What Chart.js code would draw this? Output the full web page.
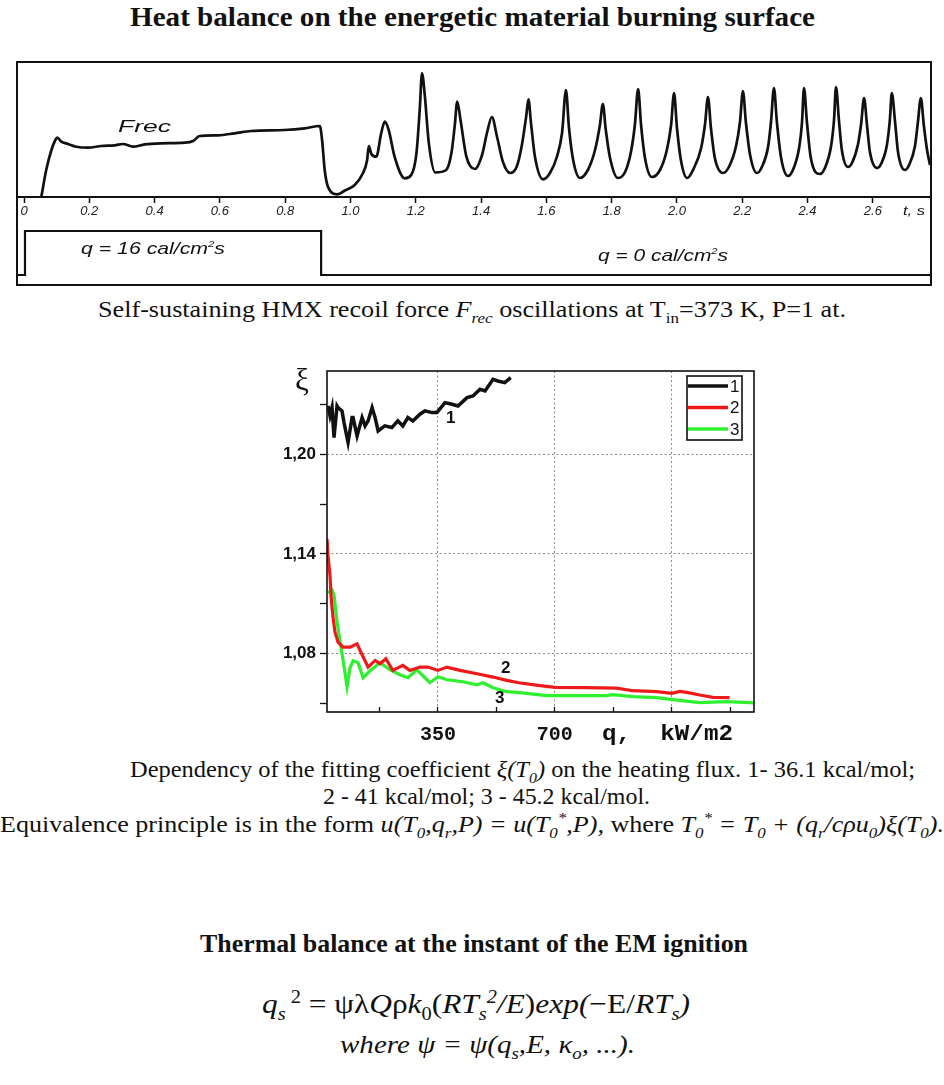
<!DOCTYPE html>
<html>
<head>
<meta charset="utf-8">
<script src="https://cdn.jsdelivr.net/npm/chart.js@4.4.1/dist/chart.umd.min.js"></script>
<style>
body{margin:0;width:944px;height:1085px;position:relative;background:#fff;overflow:hidden;
  font-family:"Liberation Serif","Times New Roman",serif;color:#111}
.t{position:absolute;white-space:nowrap;line-height:1;transform-origin:left top}
.s{font-family:"Liberation Sans",Arial,sans-serif;font-style:italic}
sub,sup{font-size:65%;line-height:0}
#box{position:absolute;left:16px;top:61px;width:916px;height:225px;border:2px solid #111;box-sizing:border-box}
#c1{position:absolute;left:0;top:0}
#c2{position:absolute;left:280px;top:350px}
.num{font-family:"Liberation Sans",Arial,sans-serif;font-weight:bold;font-size:17px}
</style>
</head>
<body>

<div class="t" data-w="685" style="left:130px;top:4px;font-size:27px;font-weight:bold">Heat balance on the energetic material burning surface</div>

<div id="box"><canvas id="c1" width="912" height="221"></canvas></div>
<div class="t s" data-w="53" style="left:118px;top:118px;font-size:17px">Frec</div>
<div class="t s" data-w="144" style="left:81px;top:240px;font-size:17px">q = 16 cal/cm<sup style="font-size:9px">2</sup>s</div>
<div class="t s" data-w="130" style="left:598px;top:247px;font-size:17px">q = 0 cal/cm<sup style="font-size:9px">2</sup>s</div>
<div class="t s" data-w="22" style="left:903px;top:204px;font-size:13px">t, s</div>

<div class="t" data-w="748" style="left:98px;top:297px;font-size:24px">Self-sustaining HMX recoil force <i>F<sub>rec</sub></i> oscillations at T<sub>in</sub>=373 K, P=1 at.</div>

<canvas id="c2" width="490" height="400"></canvas>
<div class="t" style="left:295px;top:364px;font-size:31px">ξ</div>
<div class="t num" style="left:446px;top:409px">1</div>
<div class="t num" style="left:501px;top:659px">2</div>
<div class="t num" style="left:495px;top:689px">3</div>
<div class="t" data-w="131" style="left:602px;top:724px;font-size:22px;font-weight:bold;font-family:'Liberation Mono',monospace;white-space:pre">q,  kW/m2</div>

<div class="t" data-w="785" style="left:130px;top:757px;font-size:24px">Dependency of the fitting coefficient <i>ξ(T<sub>0</sub>)</i> on the heating flux. 1- 36.1 kcal/mol;</div>
<div class="t" data-w="327" style="left:323px;top:784px;font-size:24px">2 - 41 kcal/mol; 3 - 45.2 kcal/mol.</div>
<div class="t" data-w="944" style="left:0px;top:812px;font-size:24px">Equivalence principle is in the form <i>u(T<sub>0</sub>,q<sub>r</sub>,P) = u(T<sub>0</sub><sup>*</sup>,P),</i> where <i>T<sub>0</sub><sup>*</sup> = T<sub>0</sub> + (q<sub>r</sub>/cρu<sub>0</sub>)ξ(T<sub>0</sub>).</i></div>

<div class="t" data-w="548" style="left:200px;top:931px;font-size:26px;font-weight:bold">Thermal balance at the instant of the EM ignition</div>
<div class="t" data-w="428" style="left:262px;top:990px;font-size:28px"><i>q<sub>s</sub></i><sup> 2</sup> = ψλ<i>Q</i>ρ<i>k</i><sub>0</sub>(<i>RT<sub>s</sub><sup>2</sup>/E</i>)<i>exp(</i>−E/<i>RT<sub>s</sub>)</i></div>
<div class="t" data-w="295" style="left:340px;top:1032px;font-size:25px"><i>where ψ = ψ(q<sub>s</sub>,E, κ<sub>o</sub>, ...).</i></div>

<script>
// top chart: recoil force (relative units) vs time, s
const frecTime = [
  0.053, 0.068, 0.084, 0.096, 0.102, 0.114, 0.135, 0.160, 0.196, 0.237,
  0.278, 0.303, 0.334, 0.370, 0.420, 0.492, 0.518, 0.538, 0.594, 0.645,
  0.696, 0.798, 0.860, 0.906, 0.913, 0.921, 0.931, 0.960, 0.982, 1.013,
  1.038, 1.051, 1.056, 1.064, 1.079, 1.094, 1.105, 1.117, 1.135, 1.166,
  1.186, 1.202, 1.212, 1.219, 1.227, 1.240, 1.260, 1.293,
  1.309, 1.319, 1.327, 1.337, 1.355,
  1.381, 1.403, 1.418, 1.433, 1.449, 1.467, 1.489,
  1.509, 1.524, 1.538, 1.545, 1.553, 1.565, 1.590,
  1.611, 1.632, 1.648, 1.660, 1.669, 1.682, 1.703,
  1.727, 1.749, 1.764, 1.773, 1.782, 1.795, 1.819,
  1.841, 1.859, 1.871, 1.881, 1.890, 1.902, 1.923,
  1.948, 1.969, 1.982, 1.991, 2.000, 2.012, 2.031,
  2.052, 2.074, 2.086, 2.095, 2.104, 2.116, 2.141,
  2.159, 2.181, 2.193, 2.202, 2.211, 2.224, 2.245,
  2.260, 2.279, 2.288, 2.297, 2.306, 2.319, 2.340,
  2.355, 2.374, 2.383, 2.389, 2.398, 2.410, 2.438,
  2.453, 2.472, 2.481, 2.487, 2.496, 2.505, 2.524,
  2.536, 2.554, 2.564, 2.573, 2.582, 2.591, 2.613,
  2.625, 2.643, 2.652, 2.658, 2.668, 2.677, 2.698,
  2.711, 2.729, 2.738, 2.747, 2.756, 2.766, 2.775
];
const frecForce = [
  0.0, 2.7, 4.7, 5.7, 5.93, 5.53, 5.3, 5.03, 4.93, 5.1,
  5.17, 5.3, 5.03, 5.27, 5.37, 5.43, 5.6, 6.1, 6.17, 6.37,
  6.6, 6.7, 6.87, 7.1, 5.7, 2.7, 1.03, 0.27, 0.63, 1.2,
  2.37, 3.7, 5.1, 4.3, 4.03, 6.37, 7.53, 6.7, 4.03, 1.87,
  2.2, 4.37, 8.7, 12.37, 10.37, 5.37, 2.45, 2.7,
  4.37, 7.03, 9.53, 7.7, 4.03,
  2.8, 4.2, 6.4, 8.0, 6.0, 3.5, 2.4,
  3.03, 5.03, 8.03, 9.77, 7.37, 4.03, 1.77,
  2.4, 4.0, 6.4, 10.7, 7.0, 3.7, 1.9,
  2.7, 4.7, 7.2, 9.3, 6.7, 3.9, 1.9,
  2.5, 4.5, 7.2, 10.8, 7.2, 3.9, 2.0,
  2.7, 4.7, 7.2, 10.4, 6.9, 3.7, 1.9,
  2.9, 4.9, 7.3, 10.0, 6.9, 3.9, 2.4,
  3.0, 5.1, 7.5, 10.6, 7.5, 4.2, 2.4,
  3.0, 5.0, 7.5, 10.9, 7.5, 3.9, 2.1,
  2.7, 4.9, 7.5, 10.9, 7.5, 3.9, 2.3,
  2.9, 5.1, 7.7, 11.0, 7.7, 4.7, 3.0,
  3.4, 5.2, 7.3, 9.9, 7.2, 4.5, 2.9,
  3.3, 5.2, 7.7, 10.4, 7.5, 4.5, 2.7,
  3.2, 5.1, 7.5, 9.9, 7.2, 4.7, 3.2
];
// heat flux q, cal/cm2 s
const qTime = [-0.02, 0.003, 0.91, 2.78];
const qFlux = [0, 16, 0, 0];
const tTicks = [0, 0.2, 0.4, 0.6, 0.8, 1.0, 1.2, 1.4, 1.6, 1.8, 2.0, 2.2, 2.4, 2.6];

// bottom chart: xi vs q, kW/m2
const q1 = [21,27,33,39,48,51,63,69,81,93,96,108,123,132,141,153,162,171,191,212,230,245,260,275,296,311,332,347,371,392,410,437,455,476,491,515,529,550,568];
const xi1 = [1.229,1.223,1.228,1.210,1.229,1.228,1.226,1.219,1.207,1.222,1.222,1.211,1.222,1.217,1.220,1.228,1.222,1.214,1.217,1.216,1.220,1.217,1.222,1.220,1.224,1.226,1.225,1.225,1.231,1.230,1.229,1.234,1.235,1.239,1.238,1.245,1.244,1.243,1.246];
const q2 = [18,21,24,27,30,33,36,42,51,66,87,108,117,141,162,177,194,215,245,266,296,320,350,377,416,467,515,556,592,650,700,790,885,933,1005,1050,1074,1095,1134,1173,1223];
const xi2 = [1.149,1.139,1.133,1.127,1.115,1.108,1.102,1.093,1.087,1.084,1.084,1.086,1.082,1.072,1.076,1.074,1.077,1.070,1.073,1.070,1.072,1.072,1.070,1.072,1.070,1.068,1.066,1.064,1.0626,1.061,1.0598,1.0596,1.0594,1.0578,1.0572,1.0562,1.0574,1.0568,1.0552,1.0538,1.0536];
const q3 = [21,33,39,48,57,66,78,87,96,111,126,147,177,206,236,260,287,326,350,377,425,467,485,515,556,595,676,736,855,873,933,1005,1053,1134,1214,1283,1296];
const xi3 = [1.1166,1.1184,1.1154,1.0992,1.0872,1.0764,1.0602,1.0716,1.0758,1.0746,1.0656,1.0698,1.0746,1.0704,1.0674,1.0656,1.0704,1.0626,1.0662,1.0644,1.0632,1.0614,1.0626,1.0596,1.0572,1.0566,1.0548,1.0548,1.0548,1.0554,1.0542,1.0536,1.0524,1.0506,1.0512,1.0506,1.0504];
const seriesNames = ['1', '2', '3'];
const qTicks = [175, 350, 525, 700, 875, 1050, 1225];
const qLabels = ['', '350', '', '700', '', '', ''];
const qMajor = [false, true, false, true, false, true, false];
const xiTicks = [1.05, 1.08, 1.11, 1.14, 1.17, 1.20, 1.23];
const xiLabels = ['', '1,08', '', '1,14', '', '1,20', ''];

function pairs(xs, ys) {
  return xs.map((x, i) => ({x: x, y: ys[i]}));
}

// squeeze the text lines to the widths they have in the picture
document.querySelectorAll('.t[data-w]').forEach(el => {
  const w = el.getBoundingClientRect().width;
  el.style.transform = 'scaleX(' + (+el.dataset.w / w) + ')';
});

const sans = '"Liberation Sans", Arial, sans-serif';
const mono = '"Liberation Mono", "Courier New", monospace';

new Chart(document.getElementById('c1'), {
  type: 'line',
  data: {
    datasets: [
      {data: pairs(frecTime, frecForce), borderColor: '#111', borderWidth: 2.7, pointRadius: 0,
       cubicInterpolationMode: 'monotone', yAxisID: 'y'},
      {data: pairs(qTime, qFlux), borderColor: '#111', borderWidth: 2.2, pointRadius: 0,
       stepped: true, yAxisID: 'y2'}
    ]
  },
  options: {
    responsive: false, animation: false, events: [],
    layout: {padding: 0},
    plugins: {legend: {display: false}, tooltip: {enabled: false}},
    scales: {
      x: {
        type: 'linear', min: -0.0184, max: 2.775, position: {y: 0},
        afterBuildTicks: s => { s.ticks = tTicks.map(v => ({value: v})); },
        grid: {drawOnChartArea: false, drawTicks: true, tickLength: 5, tickColor: '#111', tickWidth: 1.5},
        border: {display: true, color: '#111', width: 2},
        ticks: {padding: 2, color: '#222', autoSkip: false, maxRotation: 0,
          font: {family: sans, size: 13, style: 'italic'},
          callback: v => v === 0 ? '0' : v.toFixed(1)}
      },
      y: {display: false, min: -8.7, max: 13.4},
      y2: {display: false, min: -3.27, max: 77.1}
    }
  }
});

const frameAndLegend = {
  id: 'frameAndLegend',
  afterDatasetsDraw(chart) {
    const {ctx, chartArea: a} = chart;
    ctx.save();
    ctx.strokeStyle = '#111';
    ctx.lineWidth = 1.6;
    ctx.strokeRect(a.left, a.top, a.right - a.left, a.bottom - a.top);
    const bx = a.right - 67, by = a.top + 5, bw = 55, bh = 64;
    ctx.strokeRect(bx, by, bw, bh);
    ctx.font = '17px ' + sans;
    ctx.textBaseline = 'middle';
    chart.data.datasets.forEach((ds, i) => {
      const y = by + 10 + i * 21.5;
      ctx.strokeStyle = ds.borderColor;
      ctx.lineWidth = 3.5;
      ctx.beginPath();
      ctx.moveTo(bx + 1, y);
      ctx.lineTo(bx + 41, y);
      ctx.stroke();
      ctx.fillStyle = '#111';
      ctx.fillText(ds.label, bx + 43, y + 1);
    });
    ctx.restore();
  }
};

new Chart(document.getElementById('c2'), {
  type: 'line',
  data: {
    datasets: [
      {label: seriesNames[0], data: pairs(q1, xi1), borderColor: '#111111', borderWidth: 3.5, pointRadius: 0},
      {label: seriesNames[1], data: pairs(q2, xi2), borderColor: '#ee1a1a', borderWidth: 3.2, pointRadius: 0},
      {label: seriesNames[2], data: pairs(q3, xi3), borderColor: '#2ff02f', borderWidth: 3.2, pointRadius: 0}
    ]
  },
  options: {
    responsive: false, animation: false, events: [],
    layout: {padding: {left: 0, top: 21, right: 16, bottom: 0}},
    plugins: {legend: {display: false}, tooltip: {enabled: false}},
    scales: {
      x: {
        type: 'linear', min: 18, max: 1296,
        afterBuildTicks: s => { s.ticks = qTicks.map(v => ({value: v})); },
        afterFit: s => { s.height = 38; },
        grid: {color: c => qMajor[c.index] ? '#8a8a8a' : 'rgba(0,0,0,0)', lineWidth: 1,
          tickColor: '#111', tickLength: -5, tickWidth: 1.3},
        border: {display: false, dash: [2, 2.5]},
        ticks: {padding: 16, color: '#111', autoSkip: false, maxRotation: 0,
          font: {family: mono, size: 20, weight: 'bold'},
          callback: (v, i) => qLabels[i]}
      },
      y: {
        type: 'linear', min: 1.045, max: 1.25,
        afterBuildTicks: s => { s.ticks = xiTicks.map(v => ({value: v})); },
        afterFit: s => { s.width = 47; },
        grid: {color: c => xiLabels[c.index] ? '#8a8a8a' : 'rgba(0,0,0,0)', lineWidth: 1,
          tickColor: '#111', tickLength: 7, tickWidth: 1.3},
        border: {display: false, dash: [2, 2.5]},
        ticks: {padding: 4, color: '#111', autoSkip: false,
          font: {family: sans, size: 17, weight: 'bold'},
          callback: (v, i) => xiLabels[i]}
      }
    }
  },
  plugins: [frameAndLegend]
});
</script>
</body>
</html>
